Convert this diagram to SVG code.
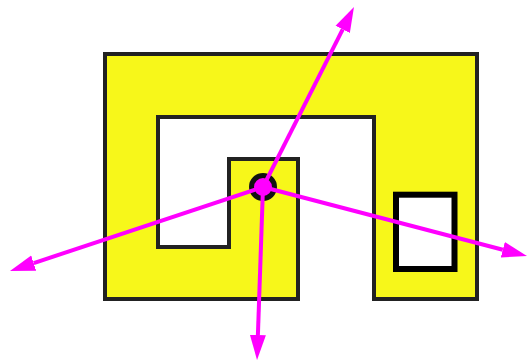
<svg xmlns="http://www.w3.org/2000/svg" width="528" height="363" viewBox="0 0 528 363">
<style>
.body{fill:#f7f71a;stroke:#222;stroke-width:4;stroke-linejoin:miter}
.box{fill:#fff;stroke:#000;stroke-width:6}
.hub{fill:#ff00ff;stroke:#111;stroke-width:5}
.arrow{stroke:#ff00ff;stroke-width:4;fill:none;marker-end:url(#head)}
</style>
<defs>
<marker id="head" markerUnits="userSpaceOnUse" viewBox="0 -9 26 18" markerWidth="26" markerHeight="18" refX="0" refY="0" orient="auto">
<path d="M0,-8 L25,0 L0,8 z" fill="#ff00ff"/>
</marker>
</defs>
<g id="body">
<path class="body" d="M105,54 H477 V299 H374 V117 H158 V247 H229 V159 H298 V299 H105 Z"/>
</g>
<g id="box">
<rect class="box" x="396" y="194.7" width="58.5" height="74.3"/>
</g>
<g id="hub">
<circle class="hub" cx="263" cy="187" r="11.5"/>
</g>
<g id="connectors">
<line class="arrow" x1="263" y1="187" x2="342.7" y2="29.3"/>
<line class="arrow" x1="263" y1="187" x2="33.7" y2="263.1"/>
<line class="arrow" x1="263" y1="187" x2="502.8" y2="249.7"/>
<line class="arrow" x1="263" y1="187" x2="257.9" y2="335"/>
</g>
</svg>
